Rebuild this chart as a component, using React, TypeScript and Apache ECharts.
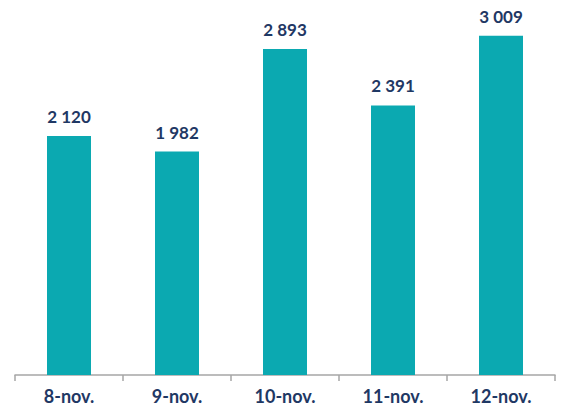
import React, { useEffect, useRef } from "react";
import * as echarts from "echarts";

const categories = ["8-nov.", "9-nov.", "10-nov.", "11-nov.", "12-nov."];
const values = [2120, 1982, 2893, 2391, 3009];

const fmt = (v: number) => {
  const s = String(Math.round(v));
  return s.replace(/\B(?=(\d{3})+(?!\d))/g, " ");
};

export default function App() {
  const ref = useRef<HTMLDivElement>(null);
  useEffect(() => {
    if (!ref.current) return;
    const chart = echarts.init(ref.current, undefined, { renderer: "svg" });
    chart.setOption({
      animation: false,
      grid: { left: 15, right: 8, top: 3, bottom: 31, containLabel: false },
      xAxis: {
        type: "category",
        data: categories,
        boundaryGap: true,
        axisLine: { lineStyle: { color: "#a6a6a6", width: 1.5 } },
        axisTick: { show: true, length: 6, lineStyle: { color: "#a6a6a6", width: 1.5 } },
        axisLabel: {
          color: "#1f3864",
          fontFamily: "Lato",
          fontWeight: "bold",
          fontSize: 18,
          margin: 12,
        },
      },
      yAxis: {
        type: "value",
        min: 0,
        max: 3300,
        show: false,
        splitLine: { show: false },
      },
      series: [
        {
          type: "bar",
          data: values,
          barWidth: 44,
          itemStyle: { color: "#0ba9b1" },
          label: {
            show: true,
            position: "top",
            distance: 11,
            color: "#1f3864",
            fontFamily: "Lato",
            fontWeight: "bold",
            fontSize: 17,
            formatter: (p: any) => fmt(p.value),
          },
        },
      ],
    });
    return () => chart.dispose();
  }, []);
  return (
    <div
      ref={ref}
      style={{ position: "absolute", left: 0, top: 0, width: 563, height: 406, background: "#fff" }}
    />
  );
}
